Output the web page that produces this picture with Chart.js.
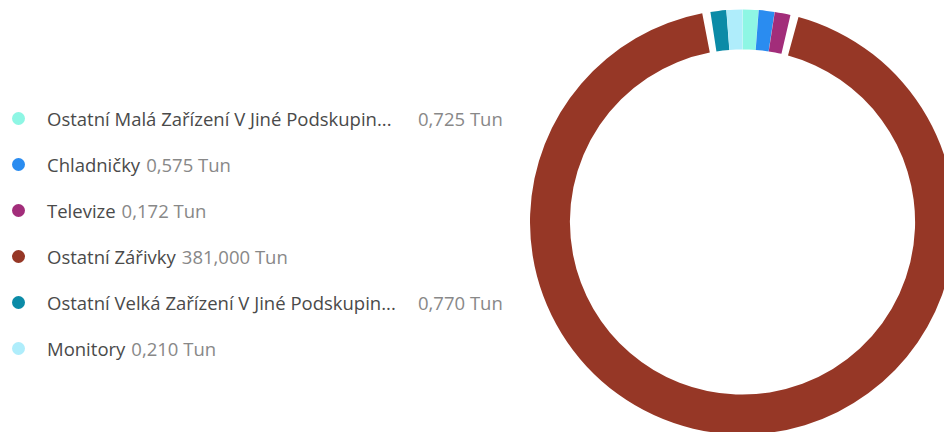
<!DOCTYPE html>
<html>
<head>
<meta charset="utf-8">
<script src="https://cdn.jsdelivr.net/npm/chart.js@4.4.1/dist/chart.umd.min.js"></script>
<style>
  html, body { margin: 0; padding: 0; width: 944px; height: 432px; overflow: hidden; background: #fff; }
  #legend { position: absolute; left: 0; top: 95px; font-family: "Segoe UI", "Open Sans", "Noto Sans", sans-serif; font-size: 18.5px; }
  .row { height: 46px; display: flex; align-items: center; white-space: nowrap; }
  .dot { width: 13px; height: 13px; border-radius: 50%; margin-left: 12px; margin-right: 22px; flex: none; }
  .lab { color: #4a4a4a; display: inline-block; }
  .lab.cut { min-width: 365px; }
  .val { color: #888; margin-left: 6px; }
  #wrap { position: absolute; left: 530px; top: 0; width: 425px; height: 444px; }
</style>
</head>
<body>
<div id="legend"></div>
<div id="wrap"><canvas id="c" width="425" height="444"></canvas></div>
<script>
const categories = [
  "Ostatní Malá Zařízení V Jiné Podskupin...",
  "Chladničky",
  "Televize",
  "Ostatní Zářivky",
  "Ostatní Velká Zařízení V Jiné Podskupin...",
  "Monitory"
];
const values = [0.725, 0.575, 0.172, 381.0, 0.770, 0.210];
const colors = ["#8ef6e4", "#2a8cf0", "#a22d7a", "#963726", "#0b8ba7", "#afedfb"];
const unit = "Tun";
const minShare = 0.0128; // smallest slices are shown at a minimum visible share

const total = values.reduce((a, b) => a + b, 0);
const shown = values.map(v => Math.max(v, total * minShare));
const fmt = v => v.toFixed(3).replace(".", ",") + " " + unit;

const legend = document.getElementById("legend");
categories.forEach((c, i) => {
  const row = document.createElement("div");
  row.className = "row";
  const dot = document.createElement("span");
  dot.className = "dot";
  dot.style.background = colors[i];
  const lab = document.createElement("span");
  lab.className = "lab";
  lab.textContent = c;
  if (c.endsWith("...")) lab.classList.add("cut");
  const val = document.createElement("span");
  val.className = "val";
  val.textContent = fmt(values[i]);
  row.appendChild(dot); row.appendChild(lab); row.appendChild(val);
  legend.appendChild(row);
});

new Chart(document.getElementById("c"), {
  type: "doughnut",
  data: {
    labels: categories,
    datasets: [{
      data: shown,
      backgroundColor: colors,
      borderWidth: 0,
      spacing: 5
    }]
  },
  options: {
    responsive: false,
    animation: false,
    cutout: "81%",
    layout: { padding: 0 },
    plugins: {
      legend: { display: false },
      tooltip: { callbacks: { label: ctx => fmt(values[ctx.dataIndex]) } }
    }
  }
});
</script>
</body>
</html>
